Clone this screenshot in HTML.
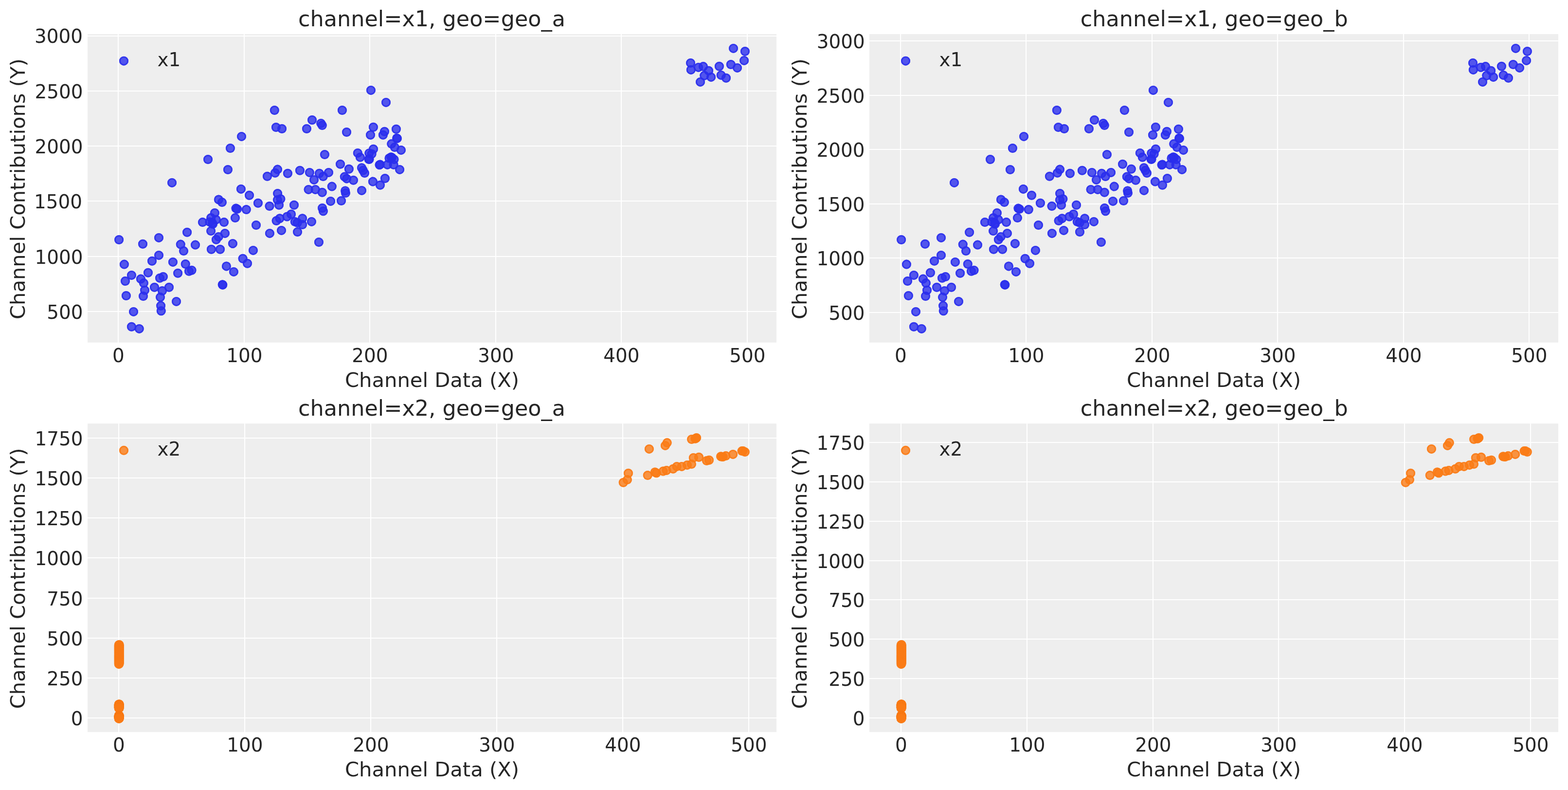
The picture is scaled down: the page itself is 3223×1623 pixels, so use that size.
<!DOCTYPE html>
<html lang="en"><head><meta charset="utf-8"><title>Channel contributions vs channel data</title>
<style>html,body{margin:0;padding:0;background:#fff}body{width:3223px;height:1623px;overflow:hidden}svg{display:block}text{font-family:"DejaVu Sans", "Liberation Sans", sans-serif;fill:#262626}.t{font-size:38.89px}.l{font-size:41.67px}.h{font-size:44.44px}.h{letter-spacing:0.05px}.g{stroke:#fff;stroke-width:2.2;fill:none}</style></head><body>
<svg xmlns="http://www.w3.org/2000/svg" width="3223" height="1623" viewBox="0 0 3223 1623">
<defs>
<g id="b"><circle r="9.5" fill="#2a2eec" fill-opacity="0.8"/><circle r="8.05" fill="none" stroke="#2a2eec" stroke-width="2.9" stroke-opacity="0.8"/></g>
<g id="o"><circle r="9.5" fill="#fa7c17" fill-opacity="0.8"/><circle r="8.05" fill="none" stroke="#fa7c17" stroke-width="2.9" stroke-opacity="0.8"/></g>
<clipPath id="c0"><rect x="180" y="70" width="1416" height="633.7"/></clipPath>
<clipPath id="c1"><rect x="1787" y="70" width="1416" height="633.7"/></clipPath>
<clipPath id="c2"><rect x="180" y="870.2" width="1416" height="633.7"/></clipPath>
<clipPath id="c3"><rect x="1787" y="870.2" width="1416" height="633.7"/></clipPath>
</defs>
<rect width="3223" height="1623" fill="#fff"/>
<g>
<rect x="180" y="70" width="1416" height="633.7" fill="#eeeeee"/>
<path class="g" d="M243 70V703.7M502 70V703.7M760 70V703.7M1019 70V703.7M1277 70V703.7M1536 70V703.7M180 74H1596M180 187H1596M180 300H1596M180 413H1596M180 527H1596M180 640H1596"/>
<g clip-path="url(#c0)">
<use href="#b" x="762.4" y="185.4"/>
<use href="#b" x="793.5" y="210.4"/>
<use href="#b" x="564.3" y="226.5"/>
<use href="#b" x="703.4" y="226.5"/>
<use href="#b" x="641.5" y="246.5"/>
<use href="#b" x="659.75" y="253.5"/>
<use href="#b" x="662.25" y="257.5"/>
<use href="#b" x="567.4" y="261.5"/>
<use href="#b" x="579.5" y="264.5"/>
<use href="#b" x="630.4" y="264.5"/>
<use href="#b" x="712.5" y="271.5"/>
<use href="#b" x="767.4" y="261.25"/>
<use href="#b" x="761.5" y="277.2"/>
<use href="#b" x="790.4" y="270.25"/>
<use href="#b" x="787.4" y="277.2"/>
<use href="#b" x="814.4" y="265.25"/>
<use href="#b" x="815.6" y="284"/>
<use href="#b" x="816.4" y="284.4"/>
<use href="#b" x="804.7" y="295.6"/>
<use href="#b" x="811.25" y="302.5"/>
<use href="#b" x="824.4" y="308.4"/>
<use href="#b" x="667.4" y="317.5"/>
<use href="#b" x="735.3" y="314.4"/>
<use href="#b" x="740.3" y="323.1"/>
<use href="#b" x="767.5" y="306.25"/>
<use href="#b" x="758.75" y="314.7"/>
<use href="#b" x="764.1" y="316.25"/>
<use href="#b" x="758.1" y="327.2"/>
<use href="#b" x="759.1" y="327"/>
<use href="#b" x="743.4" y="344.7"/>
<use href="#b" x="746.4" y="350"/>
<use href="#b" x="749.5" y="355.6"/>
<use href="#b" x="780" y="338.75"/>
<use href="#b" x="781.25" y="338.1"/>
<use href="#b" x="796.25" y="338.4"/>
<use href="#b" x="800" y="325"/>
<use href="#b" x="803.75" y="322.8"/>
<use href="#b" x="805.6" y="323.75"/>
<use href="#b" x="810" y="327.5"/>
<use href="#b" x="809.1" y="338.4"/>
<use href="#b" x="821.6" y="348.4"/>
<use href="#b" x="699.5" y="337.25"/>
<use href="#b" x="717.3" y="347.3"/>
<use href="#b" x="570.5" y="348.1"/>
<use href="#b" x="565.5" y="355.25"/>
<use href="#b" x="591.4" y="356.25"/>
<use href="#b" x="616.4" y="350.25"/>
<use href="#b" x="636.4" y="354.4"/>
<use href="#b" x="656.4" y="356.25"/>
<use href="#b" x="675.5" y="354.4"/>
<use href="#b" x="664.25" y="362.5"/>
<use href="#b" x="645.5" y="369.4"/>
<use href="#b" x="708.25" y="363.1"/>
<use href="#b" x="712.6" y="366.9"/>
<use href="#b" x="726.4" y="370.25"/>
<use href="#b" x="766.4" y="373.1"/>
<use href="#b" x="791.4" y="366.5"/>
<use href="#b" x="781.4" y="380.25"/>
<use href="#b" x="682.25" y="383.1"/>
<use href="#b" x="634.1" y="389.4"/>
<use href="#b" x="648.25" y="389.4"/>
<use href="#b" x="662.25" y="395.3"/>
<use href="#b" x="709.6" y="391.9"/>
<use href="#b" x="710.4" y="396.6"/>
<use href="#b" x="743.5" y="391.4"/>
<use href="#b" x="496.5" y="280.4"/>
<use href="#b" x="473.4" y="304.5"/>
<use href="#b" x="427.5" y="327.5"/>
<use href="#b" x="468.4" y="348.5"/>
<use href="#b" x="549.4" y="362.25"/>
<use href="#b" x="353.5" y="375.4"/>
<use href="#b" x="495.4" y="388.4"/>
<use href="#b" x="512.5" y="401.25"/>
<use href="#b" x="530.4" y="417.25"/>
<use href="#b" x="554" y="423.5"/>
<use href="#b" x="449.4" y="410"/>
<use href="#b" x="456.4" y="415.6"/>
<use href="#b" x="485" y="428.1"/>
<use href="#b" x="487.5" y="429.5"/>
<use href="#b" x="506.3" y="430.5"/>
<use href="#b" x="483.4" y="447.6"/>
<use href="#b" x="526.5" y="462.5"/>
<use href="#b" x="554.4" y="479.4"/>
<use href="#b" x="441.4" y="437.4"/>
<use href="#b" x="433.75" y="447.5"/>
<use href="#b" x="444.1" y="451.25"/>
<use href="#b" x="430.9" y="455.9"/>
<use href="#b" x="437.5" y="460.3"/>
<use href="#b" x="436.3" y="458"/>
<use href="#b" x="416.4" y="456.6"/>
<use href="#b" x="460.5" y="456.6"/>
<use href="#b" x="433.6" y="474.6"/>
<use href="#b" x="462.4" y="479.4"/>
<use href="#b" x="449.2" y="486.4"/>
<use href="#b" x="444.4" y="492.2"/>
<use href="#b" x="478.4" y="500.4"/>
<use href="#b" x="434.4" y="512.25"/>
<use href="#b" x="452.5" y="512.25"/>
<use href="#b" x="520.4" y="514.4"/>
<use href="#b" x="499.1" y="531.25"/>
<use href="#b" x="508.5" y="541.25"/>
<use href="#b" x="465.4" y="546.9"/>
<use href="#b" x="244.6" y="492.5"/>
<use href="#b" x="293.5" y="501.25"/>
<use href="#b" x="326.5" y="488.4"/>
<use href="#b" x="384.6" y="477.25"/>
<use href="#b" x="371.25" y="502.1"/>
<use href="#b" x="377.5" y="515.6"/>
<use href="#b" x="401.5" y="503.1"/>
<use href="#b" x="326.5" y="524.4"/>
<use href="#b" x="312.5" y="536.25"/>
<use href="#b" x="355.4" y="538.4"/>
<use href="#b" x="381.25" y="542.5"/>
<use href="#b" x="255.4" y="543.1"/>
<use href="#b" x="388.5" y="557.25"/>
<use href="#b" x="394" y="555.25"/>
<use href="#b" x="480.4" y="558.4"/>
<use href="#b" x="270.4" y="565.4"/>
<use href="#b" x="304.4" y="560.25"/>
<use href="#b" x="257.5" y="577.5"/>
<use href="#b" x="289.4" y="573.1"/>
<use href="#b" x="295.4" y="581.6"/>
<use href="#b" x="328.5" y="571.25"/>
<use href="#b" x="335.4" y="568.5"/>
<use href="#b" x="365.6" y="561.25"/>
<use href="#b" x="457.2" y="584.8"/>
<use href="#b" x="457.8" y="585.2"/>
<use href="#b" x="317.5" y="590.25"/>
<use href="#b" x="347.5" y="590.25"/>
<use href="#b" x="333.5" y="597.5"/>
<use href="#b" x="297.5" y="596.25"/>
<use href="#b" x="294.5" y="608.5"/>
<use href="#b" x="259.4" y="607.5"/>
<use href="#b" x="329.5" y="610.6"/>
<use href="#b" x="362.5" y="619.4"/>
<use href="#b" x="330.6" y="628.1"/>
<use href="#b" x="331.25" y="638.75"/>
<use href="#b" x="274.5" y="640.4"/>
<use href="#b" x="270.4" y="671.25"/>
<use href="#b" x="286.25" y="675.4"/>
<use href="#b" x="570.6" y="397.5"/>
<use href="#b" x="570.4" y="410.6"/>
<use href="#b" x="576.9" y="408.75"/>
<use href="#b" x="573.5" y="421.25"/>
<use href="#b" x="604.5" y="421.25"/>
<use href="#b" x="679.6" y="413.4"/>
<use href="#b" x="701.5" y="412.5"/>
<use href="#b" x="662.5" y="427.5"/>
<use href="#b" x="664.4" y="433.75"/>
<use href="#b" x="590" y="445"/>
<use href="#b" x="598.5" y="440"/>
<use href="#b" x="575" y="448.75"/>
<use href="#b" x="568.1" y="453.5"/>
<use href="#b" x="621.6" y="448.75"/>
<use href="#b" x="606.25" y="455.6"/>
<use href="#b" x="611.25" y="457.5"/>
<use href="#b" x="621.6" y="461.5"/>
<use href="#b" x="640.4" y="455.4"/>
<use href="#b" x="578.5" y="473.4"/>
<use href="#b" x="611.5" y="476.5"/>
<use href="#b" x="655.4" y="497.5"/>
<use href="#b" x="1507.5" y="99.4"/>
<use href="#b" x="1531.4" y="105.5"/>
<use href="#b" x="1529.6" y="124.4"/>
<use href="#b" x="1502.3" y="132.5"/>
<use href="#b" x="1515.5" y="139.4"/>
<use href="#b" x="1478.4" y="136.25"/>
<use href="#b" x="1419.5" y="129.4"/>
<use href="#b" x="1420.3" y="143.4"/>
<use href="#b" x="1435.6" y="138.4"/>
<use href="#b" x="1445.5" y="136.6"/>
<use href="#b" x="1456.6" y="145.3"/>
<use href="#b" x="1447.8" y="155.3"/>
<use href="#b" x="1461.6" y="158.4"/>
<use href="#b" x="1482.2" y="154.4"/>
<use href="#b" x="1492.5" y="160.3"/>
<use href="#b" x="1439.5" y="168.4"/>
</g>
<use href="#b" x="254.5" y="125.15"/>
<text class="t" x="323.4" y="135.95">x1</text>
<text class="t" text-anchor="middle" x="243.3" y="744">0</text>
<text class="t" text-anchor="middle" x="502.3" y="744">100</text>
<text class="t" text-anchor="middle" x="760.3" y="744">200</text>
<text class="t" text-anchor="middle" x="1019.3" y="744">300</text>
<text class="t" text-anchor="middle" x="1277.3" y="744">400</text>
<text class="t" text-anchor="middle" x="1536.3" y="744">500</text>
<text class="t" text-anchor="end" x="170.05" y="88">3000</text>
<text class="t" text-anchor="end" x="170.4" y="202">2500</text>
<text class="t" text-anchor="end" x="170.4" y="315">2000</text>
<text class="t" text-anchor="end" x="169" y="428">1500</text>
<text class="t" text-anchor="end" x="170.4" y="542">1000</text>
<text class="t" text-anchor="end" x="170.4" y="655">500</text>
<text class="l" text-anchor="middle" x="888" y="795.2">Channel Data (X)</text>
<text class="l" text-anchor="middle" transform="translate(50.95 388.15) rotate(-90)">Channel Contributions (Y)</text>
<text class="h" text-anchor="middle" x="887.55" y="54.25">channel=x1, geo=geo_a</text>
</g>
<g>
<rect x="1787" y="70" width="1416" height="633.7" fill="#eeeeee"/>
<path class="g" d="M1851 70V703.7M2109 70V703.7M2368 70V703.7M2626 70V703.7M2885 70V703.7M3143 70V703.7M1787 84H3203M1787 196H3203M1787 307H3203M1787 419H3203M1787 530H3203M1787 642H3203"/>
<g clip-path="url(#c1)">
<use href="#b" x="2370.4" y="185.4"/>
<use href="#b" x="2401.5" y="210.4"/>
<use href="#b" x="2172.3" y="226.5"/>
<use href="#b" x="2311.4" y="226.5"/>
<use href="#b" x="2249.5" y="246.5"/>
<use href="#b" x="2267.75" y="253.5"/>
<use href="#b" x="2270.25" y="257.5"/>
<use href="#b" x="2175.4" y="261.5"/>
<use href="#b" x="2187.5" y="264.5"/>
<use href="#b" x="2238.4" y="264.5"/>
<use href="#b" x="2320.5" y="271.5"/>
<use href="#b" x="2375.4" y="261.25"/>
<use href="#b" x="2369.5" y="277.2"/>
<use href="#b" x="2398.4" y="270.25"/>
<use href="#b" x="2395.4" y="277.2"/>
<use href="#b" x="2422.4" y="265.25"/>
<use href="#b" x="2423.6" y="284"/>
<use href="#b" x="2424.4" y="284.4"/>
<use href="#b" x="2412.7" y="295.6"/>
<use href="#b" x="2419.25" y="302.5"/>
<use href="#b" x="2432.4" y="308.4"/>
<use href="#b" x="2275.4" y="317.5"/>
<use href="#b" x="2343.3" y="314.4"/>
<use href="#b" x="2348.3" y="323.1"/>
<use href="#b" x="2375.5" y="306.25"/>
<use href="#b" x="2366.75" y="314.7"/>
<use href="#b" x="2372.1" y="316.25"/>
<use href="#b" x="2366.1" y="327.2"/>
<use href="#b" x="2367.1" y="327"/>
<use href="#b" x="2351.4" y="344.7"/>
<use href="#b" x="2354.4" y="350"/>
<use href="#b" x="2357.5" y="355.6"/>
<use href="#b" x="2388" y="338.75"/>
<use href="#b" x="2389.25" y="338.1"/>
<use href="#b" x="2404.25" y="338.4"/>
<use href="#b" x="2408" y="325"/>
<use href="#b" x="2411.75" y="322.8"/>
<use href="#b" x="2413.6" y="323.75"/>
<use href="#b" x="2418" y="327.5"/>
<use href="#b" x="2417.1" y="338.4"/>
<use href="#b" x="2429.6" y="348.4"/>
<use href="#b" x="2307.5" y="337.25"/>
<use href="#b" x="2325.3" y="347.3"/>
<use href="#b" x="2178.5" y="348.1"/>
<use href="#b" x="2173.5" y="355.25"/>
<use href="#b" x="2199.4" y="356.25"/>
<use href="#b" x="2224.4" y="350.25"/>
<use href="#b" x="2244.4" y="354.4"/>
<use href="#b" x="2264.4" y="356.25"/>
<use href="#b" x="2283.5" y="354.4"/>
<use href="#b" x="2272.25" y="362.5"/>
<use href="#b" x="2253.5" y="369.4"/>
<use href="#b" x="2316.25" y="363.1"/>
<use href="#b" x="2320.6" y="366.9"/>
<use href="#b" x="2334.4" y="370.25"/>
<use href="#b" x="2374.4" y="373.1"/>
<use href="#b" x="2399.4" y="366.5"/>
<use href="#b" x="2389.4" y="380.25"/>
<use href="#b" x="2290.25" y="383.1"/>
<use href="#b" x="2242.1" y="389.4"/>
<use href="#b" x="2256.25" y="389.4"/>
<use href="#b" x="2270.25" y="395.3"/>
<use href="#b" x="2317.6" y="391.9"/>
<use href="#b" x="2318.4" y="396.6"/>
<use href="#b" x="2351.5" y="391.4"/>
<use href="#b" x="2104.5" y="280.4"/>
<use href="#b" x="2081.4" y="304.5"/>
<use href="#b" x="2035.5" y="327.5"/>
<use href="#b" x="2076.4" y="348.5"/>
<use href="#b" x="2157.4" y="362.25"/>
<use href="#b" x="1961.5" y="375.4"/>
<use href="#b" x="2103.4" y="388.4"/>
<use href="#b" x="2120.5" y="401.25"/>
<use href="#b" x="2138.4" y="417.25"/>
<use href="#b" x="2162" y="423.5"/>
<use href="#b" x="2057.4" y="410"/>
<use href="#b" x="2064.4" y="415.6"/>
<use href="#b" x="2093" y="428.1"/>
<use href="#b" x="2095.5" y="429.5"/>
<use href="#b" x="2114.3" y="430.5"/>
<use href="#b" x="2091.4" y="447.6"/>
<use href="#b" x="2134.5" y="462.5"/>
<use href="#b" x="2162.4" y="479.4"/>
<use href="#b" x="2049.4" y="437.4"/>
<use href="#b" x="2041.75" y="447.5"/>
<use href="#b" x="2052.1" y="451.25"/>
<use href="#b" x="2038.9" y="455.9"/>
<use href="#b" x="2045.5" y="460.3"/>
<use href="#b" x="2044.3" y="458"/>
<use href="#b" x="2024.4" y="456.6"/>
<use href="#b" x="2068.5" y="456.6"/>
<use href="#b" x="2041.6" y="474.6"/>
<use href="#b" x="2070.4" y="479.4"/>
<use href="#b" x="2057.2" y="486.4"/>
<use href="#b" x="2052.4" y="492.2"/>
<use href="#b" x="2086.4" y="500.4"/>
<use href="#b" x="2042.4" y="512.25"/>
<use href="#b" x="2060.5" y="512.25"/>
<use href="#b" x="2128.4" y="514.4"/>
<use href="#b" x="2107.1" y="531.25"/>
<use href="#b" x="2116.5" y="541.25"/>
<use href="#b" x="2073.4" y="546.9"/>
<use href="#b" x="1852.6" y="492.5"/>
<use href="#b" x="1901.5" y="501.25"/>
<use href="#b" x="1934.5" y="488.4"/>
<use href="#b" x="1992.6" y="477.25"/>
<use href="#b" x="1979.25" y="502.1"/>
<use href="#b" x="1985.5" y="515.6"/>
<use href="#b" x="2009.5" y="503.1"/>
<use href="#b" x="1934.5" y="524.4"/>
<use href="#b" x="1920.5" y="536.25"/>
<use href="#b" x="1963.4" y="538.4"/>
<use href="#b" x="1989.25" y="542.5"/>
<use href="#b" x="1863.4" y="543.1"/>
<use href="#b" x="1996.5" y="557.25"/>
<use href="#b" x="2002" y="555.25"/>
<use href="#b" x="2088.4" y="558.4"/>
<use href="#b" x="1878.4" y="565.4"/>
<use href="#b" x="1912.4" y="560.25"/>
<use href="#b" x="1865.5" y="577.5"/>
<use href="#b" x="1897.4" y="573.1"/>
<use href="#b" x="1903.4" y="581.6"/>
<use href="#b" x="1936.5" y="571.25"/>
<use href="#b" x="1943.4" y="568.5"/>
<use href="#b" x="1973.6" y="561.25"/>
<use href="#b" x="2065.2" y="584.8"/>
<use href="#b" x="2065.8" y="585.2"/>
<use href="#b" x="1925.5" y="590.25"/>
<use href="#b" x="1955.5" y="590.25"/>
<use href="#b" x="1941.5" y="597.5"/>
<use href="#b" x="1905.5" y="596.25"/>
<use href="#b" x="1902.5" y="608.5"/>
<use href="#b" x="1867.4" y="607.5"/>
<use href="#b" x="1937.5" y="610.6"/>
<use href="#b" x="1970.5" y="619.4"/>
<use href="#b" x="1938.6" y="628.1"/>
<use href="#b" x="1939.25" y="638.75"/>
<use href="#b" x="1882.5" y="640.4"/>
<use href="#b" x="1878.4" y="671.25"/>
<use href="#b" x="1894.25" y="675.4"/>
<use href="#b" x="2178.6" y="397.5"/>
<use href="#b" x="2178.4" y="410.6"/>
<use href="#b" x="2184.9" y="408.75"/>
<use href="#b" x="2181.5" y="421.25"/>
<use href="#b" x="2212.5" y="421.25"/>
<use href="#b" x="2287.6" y="413.4"/>
<use href="#b" x="2309.5" y="412.5"/>
<use href="#b" x="2270.5" y="427.5"/>
<use href="#b" x="2272.4" y="433.75"/>
<use href="#b" x="2198" y="445"/>
<use href="#b" x="2206.5" y="440"/>
<use href="#b" x="2183" y="448.75"/>
<use href="#b" x="2176.1" y="453.5"/>
<use href="#b" x="2229.6" y="448.75"/>
<use href="#b" x="2214.25" y="455.6"/>
<use href="#b" x="2219.25" y="457.5"/>
<use href="#b" x="2229.6" y="461.5"/>
<use href="#b" x="2248.4" y="455.4"/>
<use href="#b" x="2186.5" y="473.4"/>
<use href="#b" x="2219.5" y="476.5"/>
<use href="#b" x="2263.4" y="497.5"/>
<use href="#b" x="3115.5" y="99.4"/>
<use href="#b" x="3139.4" y="105.5"/>
<use href="#b" x="3137.6" y="124.4"/>
<use href="#b" x="3110.3" y="132.5"/>
<use href="#b" x="3123.5" y="139.4"/>
<use href="#b" x="3086.4" y="136.25"/>
<use href="#b" x="3027.5" y="129.4"/>
<use href="#b" x="3028.3" y="143.4"/>
<use href="#b" x="3043.6" y="138.4"/>
<use href="#b" x="3053.5" y="136.6"/>
<use href="#b" x="3064.6" y="145.3"/>
<use href="#b" x="3055.8" y="155.3"/>
<use href="#b" x="3069.6" y="158.4"/>
<use href="#b" x="3090.2" y="154.4"/>
<use href="#b" x="3100.5" y="160.3"/>
<use href="#b" x="3047.5" y="168.4"/>
</g>
<use href="#b" x="1861.5" y="125.15"/>
<text class="t" x="1930.4" y="135.95">x1</text>
<text class="t" text-anchor="middle" x="1851.3" y="744">0</text>
<text class="t" text-anchor="middle" x="2109.3" y="744">100</text>
<text class="t" text-anchor="middle" x="2368.3" y="744">200</text>
<text class="t" text-anchor="middle" x="2626.3" y="744">300</text>
<text class="t" text-anchor="middle" x="2885.3" y="744">400</text>
<text class="t" text-anchor="middle" x="3143.3" y="744">500</text>
<text class="t" text-anchor="end" x="1777.8" y="99">3000</text>
<text class="t" text-anchor="end" x="1777.4" y="211">2500</text>
<text class="t" text-anchor="end" x="1777.4" y="322">2000</text>
<text class="t" text-anchor="end" x="1777.4" y="434">1500</text>
<text class="t" text-anchor="end" x="1777.4" y="545">1000</text>
<text class="t" text-anchor="end" x="1777.4" y="657">500</text>
<text class="l" text-anchor="middle" x="2495" y="795.2">Channel Data (X)</text>
<text class="l" text-anchor="middle" transform="translate(1657.95 388.15) rotate(-90)">Channel Contributions (Y)</text>
<text class="h" text-anchor="middle" x="2495.8" y="54.25">channel=x1, geo=geo_b</text>
</g>
<g>
<rect x="180" y="870.2" width="1416" height="633.7" fill="#eeeeee"/>
<path class="g" d="M244 870.2V1503.9M503 870.2V1503.9M762 870.2V1503.9M1021 870.2V1503.9M1280 870.2V1503.9M1539 870.2V1503.9M180 900H1596M180 982H1596M180 1064H1596M180 1146H1596M180 1229H1596M180 1311H1596M180 1393H1596M180 1475H1596"/>
<g clip-path="url(#c2)">
<use href="#o" x="245.05" y="1324.4"/>
<use href="#o" x="244.25" y="1325.08"/>
<use href="#o" x="245.05" y="1325.76"/>
<use href="#o" x="244.25" y="1326.43"/>
<use href="#o" x="245.05" y="1327.11"/>
<use href="#o" x="244.25" y="1327.79"/>
<use href="#o" x="245.05" y="1328.47"/>
<use href="#o" x="244.25" y="1329.15"/>
<use href="#o" x="245.05" y="1329.82"/>
<use href="#o" x="244.25" y="1330.5"/>
<use href="#o" x="245.05" y="1331.18"/>
<use href="#o" x="244.25" y="1331.86"/>
<use href="#o" x="245.05" y="1332.54"/>
<use href="#o" x="244.25" y="1333.21"/>
<use href="#o" x="245.05" y="1333.89"/>
<use href="#o" x="244.25" y="1334.57"/>
<use href="#o" x="245.05" y="1335.25"/>
<use href="#o" x="244.25" y="1335.93"/>
<use href="#o" x="245.05" y="1336.6"/>
<use href="#o" x="244.25" y="1337.28"/>
<use href="#o" x="245.05" y="1337.96"/>
<use href="#o" x="244.25" y="1338.64"/>
<use href="#o" x="245.05" y="1339.32"/>
<use href="#o" x="244.25" y="1339.99"/>
<use href="#o" x="245.05" y="1340.67"/>
<use href="#o" x="244.25" y="1341.35"/>
<use href="#o" x="245.05" y="1342.03"/>
<use href="#o" x="244.25" y="1342.71"/>
<use href="#o" x="245.05" y="1343.38"/>
<use href="#o" x="244.25" y="1344.06"/>
<use href="#o" x="245.05" y="1344.74"/>
<use href="#o" x="244.25" y="1345.42"/>
<use href="#o" x="245.05" y="1346.09"/>
<use href="#o" x="244.25" y="1346.77"/>
<use href="#o" x="245.05" y="1347.45"/>
<use href="#o" x="244.25" y="1348.13"/>
<use href="#o" x="245.05" y="1348.81"/>
<use href="#o" x="244.25" y="1349.48"/>
<use href="#o" x="245.05" y="1350.16"/>
<use href="#o" x="244.25" y="1350.84"/>
<use href="#o" x="245.05" y="1351.52"/>
<use href="#o" x="244.25" y="1352.2"/>
<use href="#o" x="245.05" y="1352.87"/>
<use href="#o" x="244.25" y="1353.55"/>
<use href="#o" x="245.05" y="1354.23"/>
<use href="#o" x="244.25" y="1354.91"/>
<use href="#o" x="245.05" y="1355.59"/>
<use href="#o" x="244.25" y="1356.26"/>
<use href="#o" x="245.05" y="1356.94"/>
<use href="#o" x="244.25" y="1357.62"/>
<use href="#o" x="245.05" y="1358.3"/>
<use href="#o" x="244.25" y="1358.98"/>
<use href="#o" x="245.05" y="1359.65"/>
<use href="#o" x="244.25" y="1360.33"/>
<use href="#o" x="245.05" y="1361.01"/>
<use href="#o" x="244.25" y="1361.69"/>
<use href="#o" x="245.05" y="1362.37"/>
<use href="#o" x="244.25" y="1363.04"/>
<use href="#o" x="245.05" y="1363.72"/>
<use href="#o" x="244.25" y="1364.4"/>
<use href="#o" x="245.05" y="1446.7"/>
<use href="#o" x="244.25" y="1446.92"/>
<use href="#o" x="245.05" y="1447.13"/>
<use href="#o" x="244.25" y="1447.35"/>
<use href="#o" x="245.05" y="1447.56"/>
<use href="#o" x="244.25" y="1447.78"/>
<use href="#o" x="245.05" y="1447.99"/>
<use href="#o" x="244.25" y="1448.21"/>
<use href="#o" x="245.05" y="1448.42"/>
<use href="#o" x="244.25" y="1448.64"/>
<use href="#o" x="245.05" y="1448.85"/>
<use href="#o" x="244.25" y="1449.07"/>
<use href="#o" x="245.05" y="1449.28"/>
<use href="#o" x="244.25" y="1449.5"/>
<use href="#o" x="245.05" y="1449.72"/>
<use href="#o" x="244.25" y="1449.93"/>
<use href="#o" x="245.05" y="1450.15"/>
<use href="#o" x="244.25" y="1450.36"/>
<use href="#o" x="245.05" y="1450.58"/>
<use href="#o" x="244.25" y="1450.79"/>
<use href="#o" x="245.05" y="1451.01"/>
<use href="#o" x="244.25" y="1451.22"/>
<use href="#o" x="245.05" y="1451.44"/>
<use href="#o" x="244.25" y="1451.65"/>
<use href="#o" x="245.05" y="1451.87"/>
<use href="#o" x="244.25" y="1452.08"/>
<use href="#o" x="245.05" y="1452.3"/>
<use href="#o" x="244.25" y="1452.52"/>
<use href="#o" x="245.05" y="1452.73"/>
<use href="#o" x="244.25" y="1452.95"/>
<use href="#o" x="245.05" y="1453.16"/>
<use href="#o" x="244.25" y="1453.38"/>
<use href="#o" x="245.05" y="1453.59"/>
<use href="#o" x="244.25" y="1453.81"/>
<use href="#o" x="245.05" y="1454.02"/>
<use href="#o" x="244.25" y="1454.24"/>
<use href="#o" x="245.05" y="1454.45"/>
<use href="#o" x="244.25" y="1454.67"/>
<use href="#o" x="245.05" y="1454.88"/>
<use href="#o" x="244.25" y="1455.1"/>
<use href="#o" x="245.05" y="1469.9"/>
<use href="#o" x="244.25" y="1470.03"/>
<use href="#o" x="245.05" y="1470.16"/>
<use href="#o" x="244.25" y="1470.29"/>
<use href="#o" x="245.05" y="1470.41"/>
<use href="#o" x="244.25" y="1470.54"/>
<use href="#o" x="245.05" y="1470.67"/>
<use href="#o" x="244.25" y="1470.8"/>
<use href="#o" x="245.05" y="1470.93"/>
<use href="#o" x="244.25" y="1471.06"/>
<use href="#o" x="245.05" y="1471.19"/>
<use href="#o" x="244.25" y="1471.31"/>
<use href="#o" x="245.05" y="1471.44"/>
<use href="#o" x="244.25" y="1471.57"/>
<use href="#o" x="245.05" y="1471.7"/>
<use href="#o" x="244.25" y="1471.83"/>
<use href="#o" x="245.05" y="1471.96"/>
<use href="#o" x="244.25" y="1472.09"/>
<use href="#o" x="245.05" y="1472.21"/>
<use href="#o" x="244.25" y="1472.34"/>
<use href="#o" x="245.05" y="1472.47"/>
<use href="#o" x="244.25" y="1472.6"/>
<use href="#o" x="245.05" y="1472.73"/>
<use href="#o" x="244.25" y="1472.86"/>
<use href="#o" x="245.05" y="1472.99"/>
<use href="#o" x="244.25" y="1473.11"/>
<use href="#o" x="245.05" y="1473.24"/>
<use href="#o" x="244.25" y="1473.37"/>
<use href="#o" x="245.05" y="1473.5"/>
<use href="#o" x="244.25" y="1473.63"/>
<use href="#o" x="245.05" y="1473.76"/>
<use href="#o" x="244.25" y="1473.89"/>
<use href="#o" x="245.05" y="1474.01"/>
<use href="#o" x="244.25" y="1474.14"/>
<use href="#o" x="245.05" y="1474.27"/>
<use href="#o" x="244.25" y="1474.4"/>
<use href="#o" x="245.05" y="1474.53"/>
<use href="#o" x="244.25" y="1474.66"/>
<use href="#o" x="245.05" y="1474.79"/>
<use href="#o" x="244.25" y="1474.91"/>
<use href="#o" x="245.05" y="1475.04"/>
<use href="#o" x="244.25" y="1475.17"/>
<use href="#o" x="245.05" y="1475.3"/>
<use href="#o" x="244.25" y="1475.43"/>
<use href="#o" x="245.05" y="1475.56"/>
<use href="#o" x="244.25" y="1475.69"/>
<use href="#o" x="245.05" y="1475.81"/>
<use href="#o" x="244.25" y="1475.94"/>
<use href="#o" x="245.05" y="1476.07"/>
<use href="#o" x="244.25" y="1476.2"/>
<use href="#o" x="1281.25" y="991.25"/>
<use href="#o" x="1289.4" y="985.6"/>
<use href="#o" x="1291.5" y="972.25"/>
<use href="#o" x="1331.25" y="976.5"/>
<use href="#o" x="1334.4" y="922.4"/>
<use href="#o" x="1346.25" y="970"/>
<use href="#o" x="1349.2" y="971.7"/>
<use href="#o" x="1363" y="968.1"/>
<use href="#o" x="1370" y="966.4"/>
<use href="#o" x="1383.45" y="963.25"/>
<use href="#o" x="1391.1" y="958.4"/>
<use href="#o" x="1401.25" y="958.4"/>
<use href="#o" x="1412.5" y="955.4"/>
<use href="#o" x="1421.4" y="953.6"/>
<use href="#o" x="1425.3" y="940.4"/>
<use href="#o" x="1436.5" y="939.3"/>
<use href="#o" x="1452.5" y="946.5"/>
<use href="#o" x="1457.5" y="945.2"/>
<use href="#o" x="1367.4" y="915.4"/>
<use href="#o" x="1371.2" y="909.6"/>
<use href="#o" x="1421.6" y="902.5"/>
<use href="#o" x="1429.1" y="901.25"/>
<use href="#o" x="1430.6" y="900.3"/>
<use href="#o" x="1431.7" y="899.4"/>
<use href="#o" x="1481.6" y="937.8"/>
<use href="#o" x="1484" y="938.3"/>
<use href="#o" x="1486.25" y="938.4"/>
<use href="#o" x="1491.9" y="936.6"/>
<use href="#o" x="1506.6" y="933.4"/>
<use href="#o" x="1525" y="926.6"/>
<use href="#o" x="1527.5" y="926.6"/>
<use href="#o" x="1531.25" y="928.5"/>
</g>
<use href="#o" x="254.5" y="925.35"/>
<text class="t" x="323.4" y="936.15">x2</text>
<text class="t" text-anchor="middle" x="244.3" y="1544">0</text>
<text class="t" text-anchor="middle" x="503.3" y="1544">100</text>
<text class="t" text-anchor="middle" x="762.3" y="1544">200</text>
<text class="t" text-anchor="middle" x="1021.3" y="1544">300</text>
<text class="t" text-anchor="middle" x="1280.3" y="1544">400</text>
<text class="t" text-anchor="middle" x="1539.3" y="1544">500</text>
<text class="t" text-anchor="end" x="170.4" y="915">1750</text>
<text class="t" text-anchor="end" x="170.4" y="997">1500</text>
<text class="t" text-anchor="end" x="170.4" y="1079">1250</text>
<text class="t" text-anchor="end" x="170.4" y="1161">1000</text>
<text class="t" text-anchor="end" x="170.4" y="1244">750</text>
<text class="t" text-anchor="end" x="170.4" y="1326">500</text>
<text class="t" text-anchor="end" x="170.4" y="1408">250</text>
<text class="t" text-anchor="end" x="170.4" y="1490">0</text>
<text class="l" text-anchor="middle" x="888" y="1595.4">Channel Data (X)</text>
<text class="l" text-anchor="middle" transform="translate(50.95 1188.35) rotate(-90)">Channel Contributions (Y)</text>
<text class="h" text-anchor="middle" x="887.55" y="854.45">channel=x2, geo=geo_a</text>
</g>
<g>
<rect x="1787" y="870.2" width="1416" height="633.7" fill="#eeeeee"/>
<path class="g" d="M1852 870.2V1503.9M2111 870.2V1503.9M2370 870.2V1503.9M2628 870.2V1503.9M2887 870.2V1503.9M3146 870.2V1503.9M1787 909H3203M1787 990H3203M1787 1071H3203M1787 1152H3203M1787 1232H3203M1787 1313H3203M1787 1394H3203M1787 1475H3203"/>
<g clip-path="url(#c3)">
<use href="#o" x="1853.05" y="1324.4"/>
<use href="#o" x="1852.25" y="1325.08"/>
<use href="#o" x="1853.05" y="1325.76"/>
<use href="#o" x="1852.25" y="1326.43"/>
<use href="#o" x="1853.05" y="1327.11"/>
<use href="#o" x="1852.25" y="1327.79"/>
<use href="#o" x="1853.05" y="1328.47"/>
<use href="#o" x="1852.25" y="1329.15"/>
<use href="#o" x="1853.05" y="1329.82"/>
<use href="#o" x="1852.25" y="1330.5"/>
<use href="#o" x="1853.05" y="1331.18"/>
<use href="#o" x="1852.25" y="1331.86"/>
<use href="#o" x="1853.05" y="1332.54"/>
<use href="#o" x="1852.25" y="1333.21"/>
<use href="#o" x="1853.05" y="1333.89"/>
<use href="#o" x="1852.25" y="1334.57"/>
<use href="#o" x="1853.05" y="1335.25"/>
<use href="#o" x="1852.25" y="1335.93"/>
<use href="#o" x="1853.05" y="1336.6"/>
<use href="#o" x="1852.25" y="1337.28"/>
<use href="#o" x="1853.05" y="1337.96"/>
<use href="#o" x="1852.25" y="1338.64"/>
<use href="#o" x="1853.05" y="1339.32"/>
<use href="#o" x="1852.25" y="1339.99"/>
<use href="#o" x="1853.05" y="1340.67"/>
<use href="#o" x="1852.25" y="1341.35"/>
<use href="#o" x="1853.05" y="1342.03"/>
<use href="#o" x="1852.25" y="1342.71"/>
<use href="#o" x="1853.05" y="1343.38"/>
<use href="#o" x="1852.25" y="1344.06"/>
<use href="#o" x="1853.05" y="1344.74"/>
<use href="#o" x="1852.25" y="1345.42"/>
<use href="#o" x="1853.05" y="1346.09"/>
<use href="#o" x="1852.25" y="1346.77"/>
<use href="#o" x="1853.05" y="1347.45"/>
<use href="#o" x="1852.25" y="1348.13"/>
<use href="#o" x="1853.05" y="1348.81"/>
<use href="#o" x="1852.25" y="1349.48"/>
<use href="#o" x="1853.05" y="1350.16"/>
<use href="#o" x="1852.25" y="1350.84"/>
<use href="#o" x="1853.05" y="1351.52"/>
<use href="#o" x="1852.25" y="1352.2"/>
<use href="#o" x="1853.05" y="1352.87"/>
<use href="#o" x="1852.25" y="1353.55"/>
<use href="#o" x="1853.05" y="1354.23"/>
<use href="#o" x="1852.25" y="1354.91"/>
<use href="#o" x="1853.05" y="1355.59"/>
<use href="#o" x="1852.25" y="1356.26"/>
<use href="#o" x="1853.05" y="1356.94"/>
<use href="#o" x="1852.25" y="1357.62"/>
<use href="#o" x="1853.05" y="1358.3"/>
<use href="#o" x="1852.25" y="1358.98"/>
<use href="#o" x="1853.05" y="1359.65"/>
<use href="#o" x="1852.25" y="1360.33"/>
<use href="#o" x="1853.05" y="1361.01"/>
<use href="#o" x="1852.25" y="1361.69"/>
<use href="#o" x="1853.05" y="1362.37"/>
<use href="#o" x="1852.25" y="1363.04"/>
<use href="#o" x="1853.05" y="1363.72"/>
<use href="#o" x="1852.25" y="1364.4"/>
<use href="#o" x="1853.05" y="1446.7"/>
<use href="#o" x="1852.25" y="1446.92"/>
<use href="#o" x="1853.05" y="1447.13"/>
<use href="#o" x="1852.25" y="1447.35"/>
<use href="#o" x="1853.05" y="1447.56"/>
<use href="#o" x="1852.25" y="1447.78"/>
<use href="#o" x="1853.05" y="1447.99"/>
<use href="#o" x="1852.25" y="1448.21"/>
<use href="#o" x="1853.05" y="1448.42"/>
<use href="#o" x="1852.25" y="1448.64"/>
<use href="#o" x="1853.05" y="1448.85"/>
<use href="#o" x="1852.25" y="1449.07"/>
<use href="#o" x="1853.05" y="1449.28"/>
<use href="#o" x="1852.25" y="1449.5"/>
<use href="#o" x="1853.05" y="1449.72"/>
<use href="#o" x="1852.25" y="1449.93"/>
<use href="#o" x="1853.05" y="1450.15"/>
<use href="#o" x="1852.25" y="1450.36"/>
<use href="#o" x="1853.05" y="1450.58"/>
<use href="#o" x="1852.25" y="1450.79"/>
<use href="#o" x="1853.05" y="1451.01"/>
<use href="#o" x="1852.25" y="1451.22"/>
<use href="#o" x="1853.05" y="1451.44"/>
<use href="#o" x="1852.25" y="1451.65"/>
<use href="#o" x="1853.05" y="1451.87"/>
<use href="#o" x="1852.25" y="1452.08"/>
<use href="#o" x="1853.05" y="1452.3"/>
<use href="#o" x="1852.25" y="1452.52"/>
<use href="#o" x="1853.05" y="1452.73"/>
<use href="#o" x="1852.25" y="1452.95"/>
<use href="#o" x="1853.05" y="1453.16"/>
<use href="#o" x="1852.25" y="1453.38"/>
<use href="#o" x="1853.05" y="1453.59"/>
<use href="#o" x="1852.25" y="1453.81"/>
<use href="#o" x="1853.05" y="1454.02"/>
<use href="#o" x="1852.25" y="1454.24"/>
<use href="#o" x="1853.05" y="1454.45"/>
<use href="#o" x="1852.25" y="1454.67"/>
<use href="#o" x="1853.05" y="1454.88"/>
<use href="#o" x="1852.25" y="1455.1"/>
<use href="#o" x="1853.05" y="1469.9"/>
<use href="#o" x="1852.25" y="1470.03"/>
<use href="#o" x="1853.05" y="1470.16"/>
<use href="#o" x="1852.25" y="1470.29"/>
<use href="#o" x="1853.05" y="1470.41"/>
<use href="#o" x="1852.25" y="1470.54"/>
<use href="#o" x="1853.05" y="1470.67"/>
<use href="#o" x="1852.25" y="1470.8"/>
<use href="#o" x="1853.05" y="1470.93"/>
<use href="#o" x="1852.25" y="1471.06"/>
<use href="#o" x="1853.05" y="1471.19"/>
<use href="#o" x="1852.25" y="1471.31"/>
<use href="#o" x="1853.05" y="1471.44"/>
<use href="#o" x="1852.25" y="1471.57"/>
<use href="#o" x="1853.05" y="1471.7"/>
<use href="#o" x="1852.25" y="1471.83"/>
<use href="#o" x="1853.05" y="1471.96"/>
<use href="#o" x="1852.25" y="1472.09"/>
<use href="#o" x="1853.05" y="1472.21"/>
<use href="#o" x="1852.25" y="1472.34"/>
<use href="#o" x="1853.05" y="1472.47"/>
<use href="#o" x="1852.25" y="1472.6"/>
<use href="#o" x="1853.05" y="1472.73"/>
<use href="#o" x="1852.25" y="1472.86"/>
<use href="#o" x="1853.05" y="1472.99"/>
<use href="#o" x="1852.25" y="1473.11"/>
<use href="#o" x="1853.05" y="1473.24"/>
<use href="#o" x="1852.25" y="1473.37"/>
<use href="#o" x="1853.05" y="1473.5"/>
<use href="#o" x="1852.25" y="1473.63"/>
<use href="#o" x="1853.05" y="1473.76"/>
<use href="#o" x="1852.25" y="1473.89"/>
<use href="#o" x="1853.05" y="1474.01"/>
<use href="#o" x="1852.25" y="1474.14"/>
<use href="#o" x="1853.05" y="1474.27"/>
<use href="#o" x="1852.25" y="1474.4"/>
<use href="#o" x="1853.05" y="1474.53"/>
<use href="#o" x="1852.25" y="1474.66"/>
<use href="#o" x="1853.05" y="1474.79"/>
<use href="#o" x="1852.25" y="1474.91"/>
<use href="#o" x="1853.05" y="1475.04"/>
<use href="#o" x="1852.25" y="1475.17"/>
<use href="#o" x="1853.05" y="1475.3"/>
<use href="#o" x="1852.25" y="1475.43"/>
<use href="#o" x="1853.05" y="1475.56"/>
<use href="#o" x="1852.25" y="1475.69"/>
<use href="#o" x="1853.05" y="1475.81"/>
<use href="#o" x="1852.25" y="1475.94"/>
<use href="#o" x="1853.05" y="1476.07"/>
<use href="#o" x="1852.25" y="1476.2"/>
<use href="#o" x="2889.25" y="991.25"/>
<use href="#o" x="2897.4" y="985.6"/>
<use href="#o" x="2899.5" y="972.25"/>
<use href="#o" x="2939.25" y="976.5"/>
<use href="#o" x="2942.4" y="922.4"/>
<use href="#o" x="2954.25" y="970"/>
<use href="#o" x="2957.2" y="971.7"/>
<use href="#o" x="2971" y="968.1"/>
<use href="#o" x="2978" y="966.4"/>
<use href="#o" x="2991.45" y="963.25"/>
<use href="#o" x="2999.1" y="958.4"/>
<use href="#o" x="3009.25" y="958.4"/>
<use href="#o" x="3020.5" y="955.4"/>
<use href="#o" x="3029.4" y="953.6"/>
<use href="#o" x="3033.3" y="940.4"/>
<use href="#o" x="3044.5" y="939.3"/>
<use href="#o" x="3060.5" y="946.5"/>
<use href="#o" x="3065.5" y="945.2"/>
<use href="#o" x="2975.4" y="915.4"/>
<use href="#o" x="2979.2" y="909.6"/>
<use href="#o" x="3029.6" y="902.5"/>
<use href="#o" x="3037.1" y="901.25"/>
<use href="#o" x="3038.6" y="900.3"/>
<use href="#o" x="3039.7" y="899.4"/>
<use href="#o" x="3089.6" y="937.8"/>
<use href="#o" x="3092" y="938.3"/>
<use href="#o" x="3094.25" y="938.4"/>
<use href="#o" x="3099.9" y="936.6"/>
<use href="#o" x="3114.6" y="933.4"/>
<use href="#o" x="3133" y="926.6"/>
<use href="#o" x="3135.5" y="926.6"/>
<use href="#o" x="3139.25" y="928.5"/>
</g>
<use href="#o" x="1861.5" y="925.35"/>
<text class="t" x="1930.4" y="936.15">x2</text>
<text class="t" text-anchor="middle" x="1852.3" y="1544">0</text>
<text class="t" text-anchor="middle" x="2111.3" y="1544">100</text>
<text class="t" text-anchor="middle" x="2370.3" y="1544">200</text>
<text class="t" text-anchor="middle" x="2628.3" y="1544">300</text>
<text class="t" text-anchor="middle" x="2887.3" y="1544">400</text>
<text class="t" text-anchor="middle" x="3146.3" y="1544">500</text>
<text class="t" text-anchor="end" x="1777.4" y="924">1750</text>
<text class="t" text-anchor="end" x="1777.4" y="1005">1500</text>
<text class="t" text-anchor="end" x="1777.4" y="1086">1250</text>
<text class="t" text-anchor="end" x="1777.4" y="1167">1000</text>
<text class="t" text-anchor="end" x="1777.4" y="1247">750</text>
<text class="t" text-anchor="end" x="1777.4" y="1328">500</text>
<text class="t" text-anchor="end" x="1777.4" y="1409">250</text>
<text class="t" text-anchor="end" x="1777.4" y="1490">0</text>
<text class="l" text-anchor="middle" x="2495" y="1595.4">Channel Data (X)</text>
<text class="l" text-anchor="middle" transform="translate(1657.95 1188.35) rotate(-90)">Channel Contributions (Y)</text>
<text class="h" text-anchor="middle" x="2495.8" y="854.45">channel=x2, geo=geo_b</text>
</g>
</svg></body></html>
